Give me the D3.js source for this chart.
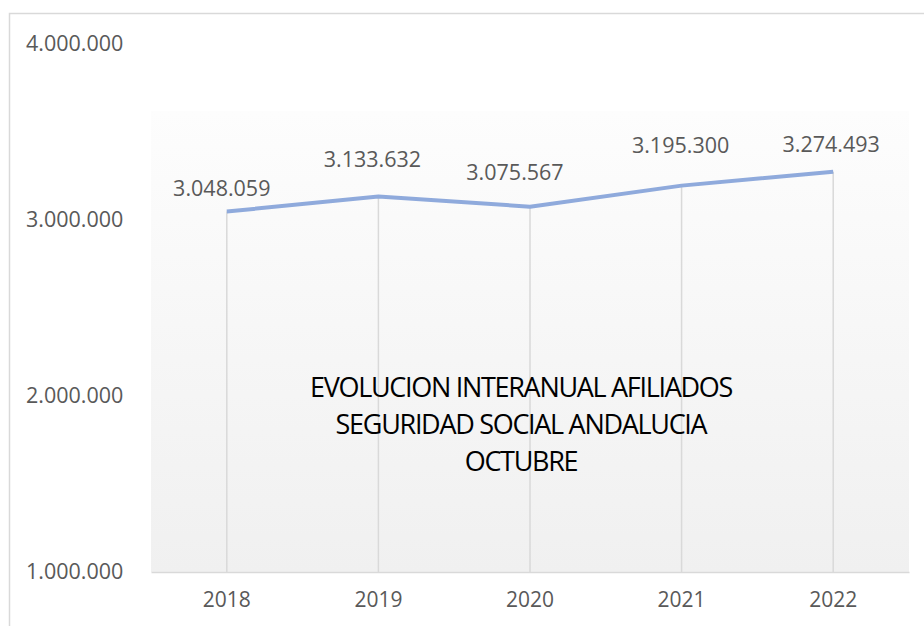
<!DOCTYPE html>
<html><head><meta charset="utf-8">
<script src="https://cdn.jsdelivr.net/npm/d3@7"></script>
<style>
html,body{margin:0;padding:0;background:#fff;}
svg{display:block;}
</style></head>
<body>
<svg id="chart" width="924" height="626"></svg>
<script>
const categories = ["2018","2019","2020","2021","2022"];
const values = [3048059, 3133632, 3075567, 3195300, 3274493];
const yTicks = [1000000, 2000000, 3000000, 4000000];
const titleLines = ["EVOLUCION INTERANUAL AFILIADOS","SEGURIDAD SOCIAL ANDALUCIA","OCTUBRE"];

// manual label placement (as in the original chart), in px relative to the point
const labelDx = [-5, -6, -15, -1, -2];
const labelDy = [23, 37, 34, 40, 27];

const W = 924, H = 626;
const m = {left:151, right:15, top:44, bottom:54};
const svg = d3.select("#chart");
const FONT = "'Open Sans', sans-serif";

// outer border
svg.append("rect").attr("x",9.5).attr("y",13.5).attr("width",W).attr("height",H)
  .attr("fill","#fff").attr("stroke","#d9d9d9").attr("stroke-width",1.5);

const defs = svg.append("defs");
const grad = defs.append("linearGradient").attr("id","bg").attr("x1",0).attr("y1",0).attr("x2",0).attr("y2",1);
grad.append("stop").attr("offset","0%").attr("stop-color","#fdfdfd");
grad.append("stop").attr("offset","100%").attr("stop-color","#f0f0f0");

const x = d3.scaleBand().domain(categories).range([m.left, W - m.right]);
const y = d3.scaleLinear().domain([1000000, 4000000]).range([H - m.bottom, m.top]);
const cx = i => x(categories[i]) + x.bandwidth()/2;

const plotTop = 111;
svg.append("rect").attr("x",m.left).attr("y",plotTop)
  .attr("width",(W-m.right)-m.left).attr("height",y(1000000)-plotTop)
  .attr("fill","url(#bg)");

const fmt = v => d3.format(",")(v).replace(/,/g,".");

// drop lines
svg.append("g").selectAll("line").data(values).join("line")
  .attr("x1",(d,i)=>cx(i)).attr("x2",(d,i)=>cx(i))
  .attr("y1",d=>y(d)).attr("y2",y(1000000))
  .attr("stroke","#d9d9d9").attr("stroke-width",1.5);

// x axis
const xAxis = svg.append("g").attr("transform",`translate(0,${y(1000000)})`)
  .call(d3.axisBottom(x).tickSize(0).tickPadding(20));
xAxis.select(".domain").attr("stroke","#d9d9d9").attr("stroke-width",1.5);
xAxis.selectAll("text").attr("fill","#595959").attr("font-size","21px")
  .attr("font-family",FONT);

// y axis
const yAxis = svg.append("g").attr("transform",`translate(${m.left},0)`)
  .call(d3.axisLeft(y).tickValues(yTicks).tickSize(0).tickPadding(10).tickFormat(fmt));
yAxis.select(".domain").remove();
yAxis.selectAll("text").attr("fill","#595959").attr("font-size","21.5px")
  .attr("font-family",FONT).attr("text-anchor","start").attr("x",-125);

// line
const line = d3.line().x((d,i)=>cx(i)).y(d=>y(d));
svg.append("path").datum(values).attr("d",line).attr("fill","none")
  .attr("stroke","#8faadc").attr("stroke-width",4).attr("stroke-linejoin","round");

// data labels
svg.append("g").selectAll("text").data(values).join("text")
  .attr("x",(d,i)=>cx(i) + labelDx[i])
  .attr("y",(d,i)=>y(d) - labelDy[i] + 7.5)
  .attr("text-anchor","middle").attr("fill","#595959").attr("font-size","21.5px")
  .attr("font-family",FONT).text(fmt);

// title
svg.append("g").selectAll("text").data(titleLines).join("text")
  .attr("x",521).attr("y",(d,i)=>397 + i*37)
  .attr("text-anchor","middle").attr("fill","#000").attr("font-size","27px")
  .attr("letter-spacing","-1.3px")
  .attr("font-family",FONT).text(d=>d);
</script>
</body></html>
